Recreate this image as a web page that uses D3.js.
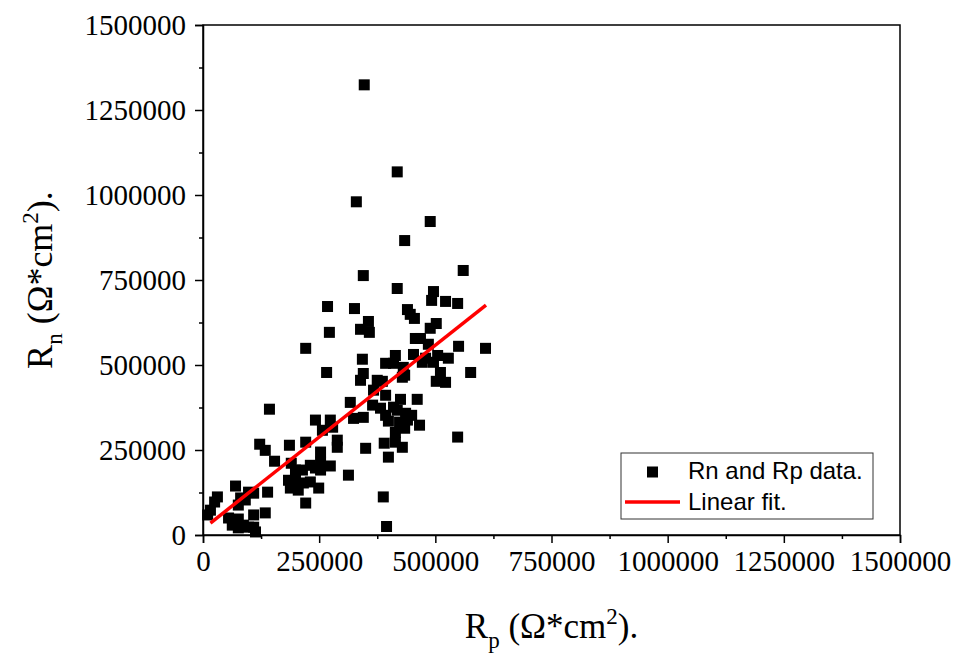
<!DOCTYPE html>
<html>
<head>
<meta charset="utf-8">
<script src="https://d3js.org/d3.v7.min.js"></script>
<style>
  body { margin: 0; background: #fff; }
</style>
</head>
<body>
<div id="chart"></div>
<script>
// values
var rpValues = [347000, 418000, 330000, 489000, 434000, 560000, 345000, 418000, 496000, 492000,
  522000, 548000, 268000, 326000, 440000, 446000, 455000, 356000, 502000, 339000,
  358000, 489000, 272000, 457000, 468000, 485000, 550000, 608000, 221000, 453000,
  505000, 528000, 414000, 343000, 393000, 410000, 431000, 472000, 496000, 479000,
  434000, 345000, 266000, 576000, 511000, 339000, 375000, 386000, 429000, 502000,
  522000, 367000, 393000, 425000, 461000, 317000, 365000, 382000, 410000, 418000,
  436000, 449000, 324000, 345000, 393000, 399000, 423000, 440000, 466000, 242000,
  274000, 257000, 279000, 289000, 289000, 390000, 414000, 429000, 350000, 399000,
  414000, 434000, 548000, 143000, 122000, 134000, 186000, 221000, 154000, 190000,
  199000, 214000, 231000, 242000, 253000, 253000, 274000, 253000, 313000, 184000,
  199000, 216000, 231000, 249000, 188000, 205000, 221000, 70000, 98000, 109000,
  81000, 91000, 76000, 139000, 31000, 25000, 16000, 10000, 134000, 55000,
  63000, 76000, 76000, 109000, 109000, 113000, 87000, 98000, 388000, 395000];
var rnValues = [1324000, 1068000, 980000, 922000, 866000, 778000, 763000, 725000, 716000, 690000,
  687000, 681000, 672000, 666000, 663000, 649000, 637000, 628000, 622000, 605000,
  596000, 608000, 596000, 578000, 578000, 561000, 555000, 549000, 549000, 531000,
  528000, 520000, 528000, 517000, 505000, 505000, 493000, 508000, 508000, 520000,
  470000, 475000, 478000, 478000, 478000, 455000, 455000, 452000, 464000, 452000,
  449000, 426000, 411000, 399000, 399000, 390000, 382000, 373000, 376000, 367000,
  358000, 352000, 343000, 346000, 352000, 335000, 332000, 338000, 323000, 338000,
  338000, 308000, 317000, 279000, 258000, 270000, 273000, 258000, 255000, 229000,
  302000, 314000, 288000, 370000, 267000, 249000, 264000, 273000, 217000, 211000,
  191000, 191000, 205000, 197000, 244000, 214000, 203000, 191000, 176000, 161000,
  161000, 153000, 156000, 138000, 138000, 132000, 94000, 144000, 126000, 123000,
  109000, 103000, 88000, 126000, 112000, 97000, 73000, 59000, 65000, 50000,
  29000, 47000, 21000, 59000, 23000, 9000, 29000, 23000, 112000, 25000];

// linear fit end points
var fitRp = [16000, 609000];
var fitRn = [35000, 676000];

var tickValues = [0, 250000, 500000, 750000, 1000000, 1250000, 1500000];
var minorTicks = [125000, 375000, 625000, 875000, 1125000, 1375000];
var legendLabels = ["Rn and Rp data.", "Linear fit."];

var data = rpValues.map(function(d, i) { return {rp: d, rn: rnValues[i]}; });

// set the dimensions and margins of the graph
var margin = {top: 25, right: 54, bottom: 121, left: 203},
    width = 954 - margin.left - margin.right,
    height = 656 - margin.top - margin.bottom;

var svg = d3.select("#chart")
  .append("svg")
    .attr("width", width + margin.left + margin.right)
    .attr("height", height + margin.top + margin.bottom)
  .append("g")
    .attr("transform", "translate(" + margin.left + "," + margin.top + ")");

var x = d3.scaleLinear().domain([0, 1500000]).range([0, width]);
var y = d3.scaleLinear().domain([0, 1500000]).range([height, 0]);

// frame
svg.append("rect")
    .attr("width", width)
    .attr("height", height)
    .attr("fill", "none")
    .attr("stroke", "#000")
    .attr("stroke-width", 1.5);

// X axis
svg.append("g")
    .attr("transform", "translate(0," + height + ")")
    .call(d3.axisBottom(x).tickValues(tickValues).tickSize(8).tickPadding(7).tickFormat(d3.format("d")));
svg.append("g")
    .attr("transform", "translate(0," + height + ")")
    .call(d3.axisBottom(x).tickValues(minorTicks).tickSize(4).tickFormat(""))
    .select(".domain").remove();

// Y axis
svg.append("g")
    .call(d3.axisLeft(y).tickValues(tickValues).tickSize(8).tickPadding(9).tickFormat(d3.format("d")));
svg.append("g")
    .call(d3.axisLeft(y).tickValues(minorTicks).tickSize(4).tickFormat(""))
    .select(".domain").remove();

svg.selectAll(".tick line").attr("stroke-width", 1.5);
svg.selectAll(".domain").attr("stroke-width", 1.5);
svg.selectAll(".tick text")
    .style("font-family", "'Liberation Serif', 'Times New Roman', serif")
    .style("font-size", "29px")
    .attr("fill", "#000");

// points
var sq = 11;
svg.append("g")
  .selectAll("rect")
  .data(data)
  .enter().append("rect")
    .attr("x", function(d) { return x(d.rp) - sq / 2; })
    .attr("y", function(d) { return y(d.rn) - sq / 2; })
    .attr("width", sq)
    .attr("height", sq)
    .attr("fill", "#000");

// fit line
svg.append("line")
    .attr("x1", x(fitRp[0]))
    .attr("y1", y(fitRn[0]))
    .attr("x2", x(fitRp[1]))
    .attr("y2", y(fitRn[1]))
    .attr("stroke", "#ff0000")
    .attr("stroke-width", 3.5);

// axis titles
var titleFont = "'Liberation Serif', 'Times New Roman', serif";
var xTitle = svg.append("text")
    .attr("x", width / 2)
    .attr("y", height + 103)
    .attr("text-anchor", "middle")
    .style("font-family", titleFont)
    .style("font-size", "35px");
xTitle.append("tspan").text("R");
xTitle.append("tspan").attr("dy", 10).style("font-size", "23px").text("p");
xTitle.append("tspan").attr("dy", -10).text(" (\u03A9*cm");
xTitle.append("tspan").attr("dy", -14).style("font-size", "23px").text("2");
xTitle.append("tspan").attr("dy", 14).text(").");

var yTitle = svg.append("text")
    .attr("transform", "translate(" + (-151) + "," + (height / 2) + ")rotate(-90)")
    .attr("text-anchor", "middle")
    .style("font-family", titleFont)
    .style("font-size", "36px");
yTitle.append("tspan").text("R");
yTitle.append("tspan").attr("dy", 10).style("font-size", "23px").text("n");
yTitle.append("tspan").attr("dy", -10).text(" (\u03A9*cm");
yTitle.append("tspan").attr("dy", -14).style("font-size", "23px").text("2");
yTitle.append("tspan").attr("dy", 14).text(").");

// legend
var legend = svg.append("g")
    .attr("transform", "translate(" + (621 - margin.left) + "," + (453 - margin.top) + ")");
legend.append("rect")
    .attr("width", 252)
    .attr("height", 66)
    .attr("fill", "#fff")
    .attr("stroke", "#333")
    .attr("stroke-width", 1);
legend.append("rect")
    .attr("x", 31.5 - sq / 2)
    .attr("y", 19 - sq / 2)
    .attr("width", sq)
    .attr("height", sq)
    .attr("fill", "#000");
legend.append("line")
    .attr("x1", 4)
    .attr("x2", 59)
    .attr("y1", 49)
    .attr("y2", 49)
    .attr("stroke", "#ff0000")
    .attr("stroke-width", 3.5);
legend.selectAll("text.lg")
  .data(legendLabels)
  .enter().append("text")
    .attr("class", "lg")
    .attr("x", 67)
    .attr("y", function(d, i) { return 26 + i * 31; })
    .style("font-family", "'Liberation Sans', Arial, sans-serif")
    .style("font-size", "24px")
    .attr("fill", "#000")
    .text(function(d) { return d; });
</script>
</body>
</html>
